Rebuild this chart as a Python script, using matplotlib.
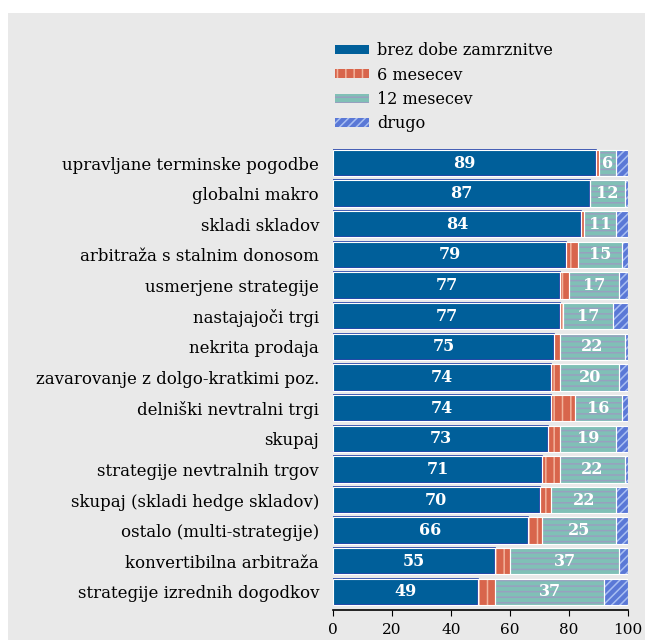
import matplotlib
matplotlib.use("Agg")
import matplotlib.pyplot as plt
from matplotlib.patches import Rectangle, Patch

categories = [
    "upravljane terminske pogodbe",
    "globalni makro",
    "skladi skladov",
    "arbitraža s stalnim donosom",
    "usmerjene strategije",
    "nastajajoči trgi",
    "nekrita prodaja",
    "zavarovanje z dolgo-kratkimi poz.",
    "delniški nevtralni trgi",
    "skupaj",
    "strategije nevtralnih trgov",
    "skupaj (skladi hedge skladov)",
    "ostalo (multi-strategije)",
    "konvertibilna arbitraža",
    "strategije izrednih dogodkov",
]
brez = [89, 87, 84, 79, 77, 77, 75, 74, 74, 73, 71, 70, 66, 55, 49]
m6 = [1, 0, 1, 4, 3, 1, 2, 3, 8, 4, 6, 4, 5, 5, 6]
m12 = [6, 12, 11, 15, 17, 17, 22, 20, 16, 19, 22, 22, 25, 37, 37]
drugo = [4, 1, 4, 2, 3, 5, 1, 3, 2, 4, 1, 4, 4, 3, 8]

series_names = ["brez dobe zamrznitve", "6 mesecev", "12 mesecev", "drugo"]
ticks = [0, 20, 40, 60, 80, 100]

FONT = ["DejaVu Serif"]
plt.rcParams["font.family"] = FONT
plt.rcParams["hatch.linewidth"] = 1.1

styles = [
    dict(facecolor="#005f9a", edgecolor="#1c3aa6", hatch=None, lw=1.2),
    dict(facecolor="#d8654c", edgecolor="#f2b39c", hatch="||", lw=0),
    dict(facecolor="#80c0b6", edgecolor="#98a0c0", hatch="---", lw=0),
    dict(facecolor="#5a78d6", edgecolor="#a9bff2", hatch="////", lw=0),
]

fig = plt.figure(figsize=(6.45, 6.40), dpi=100)
fig.patch.set_facecolor("white")
fig.patches.append(Rectangle((8 / 645, 0), 1, 1 - 13 / 640,
                             transform=fig.transFigure,
                             facecolor="#e9e9e9", edgecolor="none", zorder=-10))

ax = fig.add_axes([333 / 645, 1 - 610 / 640, 295 / 645, 462 / 640])
ax.set_facecolor("none")
ax.set_zorder(1)

ypos = list(range(len(categories)))
left = [0] * len(categories)
for vals, st in zip([brez, m6, m12, drugo], styles):
    ax.barh(ypos, vals, left=left, height=0.86,
            facecolor=st["facecolor"], edgecolor=st["edgecolor"],
            hatch=st["hatch"], linewidth=st["lw"], zorder=2)
    ax.barh(ypos, vals, left=left, height=0.86, facecolor="none",
            edgecolor="white", linewidth=0.8, zorder=3)
    left = [a + b for a, b in zip(left, vals)]

for i in ypos:
    ax.text(brez[i] / 2, i, str(brez[i]), color="white", ha="center",
            va="center", fontsize=11.5, fontweight="bold", zorder=5)
    x12 = brez[i] + m6[i] + m12[i] / 2
    ax.text(x12, i, str(m12[i]), color="white", ha="center",
            va="center", fontsize=11.5, fontweight="bold", zorder=5)

ax.set_xlim(0, 100)
ax.set_ylim(14.59, -0.49)
ax.set_xticks(ticks)
ax.set_xticklabels([str(t) for t in ticks], fontsize=11)
ax.set_yticks(ypos)
ax.set_yticklabels(categories, fontsize=12)
ax.tick_params(axis="y", length=0, pad=10)
ax.tick_params(axis="x", length=4, direction="out", pad=5)
for s in ["top", "right", "left"]:
    ax.spines[s].set_visible(False)
ax.spines["bottom"].set_linewidth(1.2)

handles = [Patch(facecolor=st["facecolor"], edgecolor=st["edgecolor"],
                 hatch=st["hatch"], linewidth=0) for st in styles]
fig.legend(handles, series_names, loc="upper left",
           bbox_to_anchor=(329 / 645, 1 - 36 / 640), frameon=False,
           fontsize=11.5, handlelength=2.1, handleheight=0.5,
           labelspacing=0.45, handletextpad=0.5, borderaxespad=0)

fig.savefig("out.png", dpi=100)
